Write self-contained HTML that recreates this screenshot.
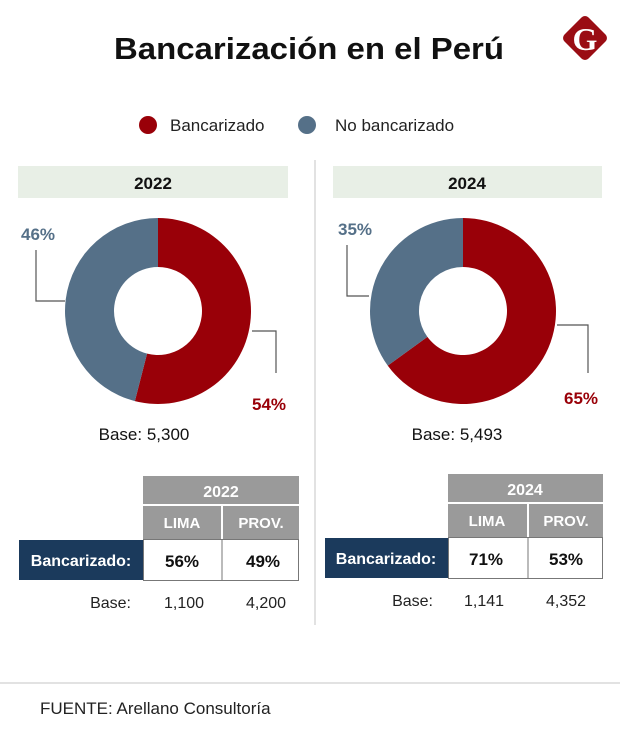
<!DOCTYPE html>
<html><head><meta charset="utf-8"><style>
html,body{margin:0;padding:0;background:#fff;}
svg{display:block;font-family:"Liberation Sans",sans-serif;}
</style></head><body>
<svg width="620" height="740" viewBox="0 0 620 740">
<text x="309" y="59" text-anchor="middle" font-size="31" font-weight="bold" fill="#111" textLength="390" lengthAdjust="spacingAndGlyphs">Bancarización en el Perú</text>
<g>
<rect x="568" y="21" width="34" height="34" rx="5" transform="rotate(45 585 38)" fill="#9a0d14"/>
<text x="585" y="50" text-anchor="middle" font-size="32" font-weight="bold" fill="#fff" font-family="Liberation Serif,serif">G</text>
</g>
<g>
<circle cx="148" cy="125" r="9" fill="#990008"/>
<text x="170" y="131" font-size="17" fill="#222">Bancarizado</text>
<circle cx="307" cy="125" r="9" fill="#557088"/>
<text x="335" y="131" font-size="17" fill="#222">No bancarizado</text>
</g>
<line x1="315" y1="160" x2="315" y2="625" stroke="#e2e2e2" stroke-width="2"/>
<rect x="18" y="166" width="270" height="32" fill="#e8efe6"/>
<text x="153" y="189" text-anchor="middle" font-size="17" font-weight="bold" fill="#111">2022</text>
<rect x="333" y="166" width="269" height="32" fill="#e8efe6"/>
<text x="467" y="189" text-anchor="middle" font-size="17" font-weight="bold" fill="#111">2024</text>
<g id="donuts"></g>
<g fill="none" stroke="#555" stroke-width="1.2">
<polyline points="36,250 36,301 65,301"/>
<polyline points="252,331 276,331 276,373"/>
<polyline points="347,245 347,296 369,296"/>
<polyline points="557,325 588,325 588,373"/>
</g>
<text x="21" y="240" font-size="17" font-weight="bold" fill="#557088">46%</text>
<text x="252" y="410" font-size="17" font-weight="bold" fill="#990008">54%</text>
<text x="338" y="235" font-size="17" font-weight="bold" fill="#557088">35%</text>
<text x="564" y="404" font-size="17" font-weight="bold" fill="#990008">65%</text>
<text x="144" y="440" text-anchor="middle" font-size="17" fill="#111">Base: 5,300</text>
<text x="457" y="440" text-anchor="middle" font-size="17" fill="#111">Base: 5,493</text>

<g>
<rect x="143" y="476" width="156" height="28" fill="#9a9a9a"/>
<text x="221" y="497" text-anchor="middle" font-size="16" font-weight="bold" fill="#fff">2022</text>
<rect x="143" y="506" width="78" height="33" fill="#9a9a9a"/>
<rect x="223" y="506" width="76" height="33" fill="#9a9a9a"/>
<text x="182" y="528" text-anchor="middle" font-size="15" font-weight="bold" fill="#fff">LIMA</text>
<text x="261" y="528" text-anchor="middle" font-size="15" font-weight="bold" fill="#fff">PROV.</text>
<rect x="19" y="540" width="124" height="40" fill="#1b3a5c"/>
<text x="81" y="566" text-anchor="middle" font-size="16" font-weight="bold" fill="#fff">Bancarizado:</text>
<rect x="143.5" y="539.5" width="155" height="41" fill="#fff" stroke="#777"/>
<line x1="222" y1="540" x2="222" y2="580" stroke="#777"/>
<text x="182" y="567" text-anchor="middle" font-size="17" font-weight="bold" fill="#111">56%</text>
<text x="263" y="567" text-anchor="middle" font-size="17" font-weight="bold" fill="#111">49%</text>
<text x="131" y="608" text-anchor="end" font-size="16" fill="#222">Base:</text>
<text x="184" y="608" text-anchor="middle" font-size="16" fill="#222">1,100</text>
<text x="266" y="608" text-anchor="middle" font-size="16" fill="#222">4,200</text>
</g>
<g>
<rect x="448" y="474" width="155" height="28" fill="#9a9a9a"/>
<text x="525" y="495" text-anchor="middle" font-size="16" font-weight="bold" fill="#fff">2024</text>
<rect x="448" y="504" width="79" height="33" fill="#9a9a9a"/>
<rect x="529" y="504" width="74" height="33" fill="#9a9a9a"/>
<text x="487" y="526" text-anchor="middle" font-size="15" font-weight="bold" fill="#fff">LIMA</text>
<text x="566" y="526" text-anchor="middle" font-size="15" font-weight="bold" fill="#fff">PROV.</text>
<rect x="325" y="538" width="123" height="40" fill="#1b3a5c"/>
<text x="386" y="564" text-anchor="middle" font-size="16" font-weight="bold" fill="#fff">Bancarizado:</text>
<rect x="448.5" y="537.5" width="154" height="41" fill="#fff" stroke="#777"/>
<line x1="528" y1="538" x2="528" y2="578" stroke="#777"/>
<text x="486" y="565" text-anchor="middle" font-size="17" font-weight="bold" fill="#111">71%</text>
<text x="566" y="565" text-anchor="middle" font-size="17" font-weight="bold" fill="#111">53%</text>
<text x="433" y="606" text-anchor="end" font-size="16" fill="#222">Base:</text>
<text x="484" y="606" text-anchor="middle" font-size="16" fill="#222">1,141</text>
<text x="566" y="606" text-anchor="middle" font-size="16" fill="#222">4,352</text>
</g>
<line x1="0" y1="683" x2="620" y2="683" stroke="#d8d8d8" stroke-width="1.5"/>
<text x="40" y="714" font-size="17" fill="#222">FUENTE: Arellano Consultoría</text>
</svg>
<script>
const years = ["2022", "2024"];
const bancarizado = [54, 65];
const noBancarizado = [46, 35];
const centers = [[158, 311], [463, 311]];
const R = 93, r = 44;
const g = document.getElementById('donuts');
const NS = 'http://www.w3.org/2000/svg';
function pt(cx, cy, rad, frac) {
  const a = frac * 2 * Math.PI;
  return [cx + rad * Math.sin(a), cy - rad * Math.cos(a)];
}
function arc(cx, cy, f0, f1) {
  const large = (f1 - f0) > 0.5 ? 1 : 0;
  const a = pt(cx, cy, R, f0), b = pt(cx, cy, R, f1), c = pt(cx, cy, r, f1), d = pt(cx, cy, r, f0);
  return `M${a[0]},${a[1]} A${R},${R} 0 ${large} 1 ${b[0]},${b[1]} L${c[0]},${c[1]} A${r},${r} 0 ${large} 0 ${d[0]},${d[1]} Z`;
}
years.forEach((y, i) => {
  const [cx, cy] = centers[i];
  const tot = bancarizado[i] + noBancarizado[i];
  const f = bancarizado[i] / tot;
  const p1 = document.createElementNS(NS, 'path');
  p1.setAttribute('d', arc(cx, cy, 0, f));
  p1.setAttribute('fill', '#990008');
  
  
  g.appendChild(p1);
  const p2 = document.createElementNS(NS, 'path');
  p2.setAttribute('d', arc(cx, cy, f, 0.99999));
  p2.setAttribute('fill', '#557088');
  
  
  g.appendChild(p2);
});
</script>
</body></html>
